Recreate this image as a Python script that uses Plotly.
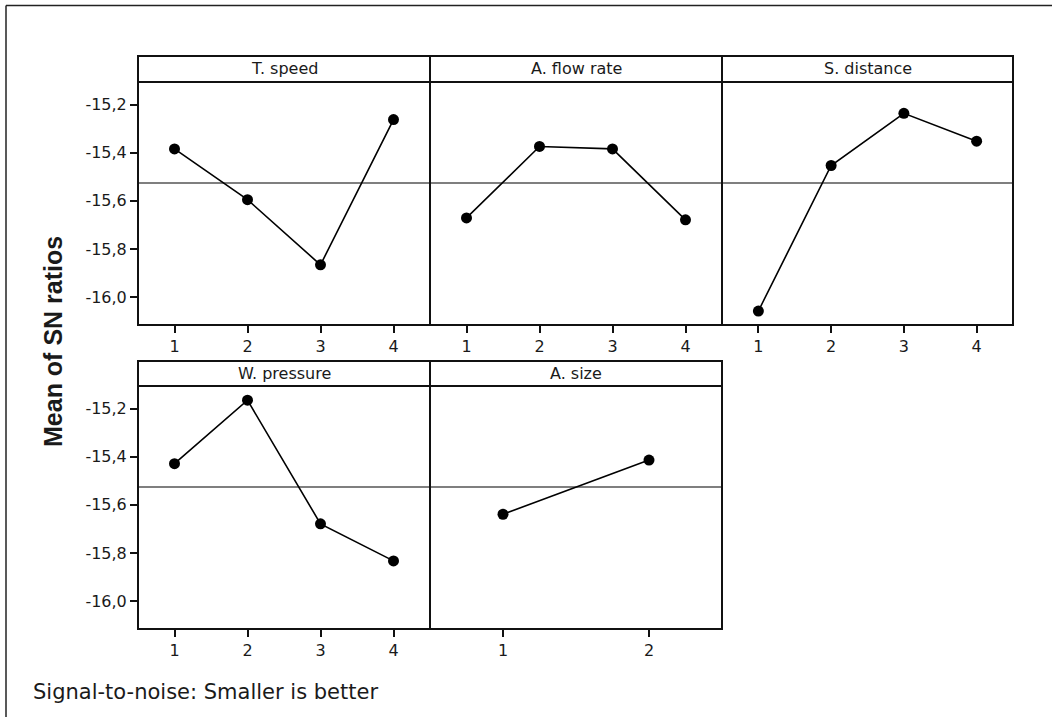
import numpy as np
import plotly.graph_objects as go

# ---- data ----
levels4 = [1, 2, 3, 4]
levels2 = [1, 2]
factor_names = ["T. speed", "A. flow rate", "S. distance", "W. pressure", "A. size"]
t_speed = [-15.384, -15.595, -15.866, -15.262]
flow_rate = [-15.671, -15.374, -15.384, -15.679]
s_distance = [-16.058, -15.453, -15.236, -15.352]
w_pressure = [-15.429, -15.165, -15.679, -15.833]
a_size = [-15.639, -15.414]
y_tickvals = [-16.0, -15.8, -15.6, -15.4, -15.2]
y_ticktext = ["-16,0", "-15,8", "-15,6", "-15,4", "-15,2"]
y_title = "Mean of SN ratios"
footer = "Signal-to-noise: Smaller is better"

series = [
    (levels4, t_speed),
    (levels4, flow_rate),
    (levels4, s_distance),
    (levels4, w_pressure),
    (levels2, a_size),
]
grand_mean = float(np.mean([np.mean(v) for _, v in series]))

W, H = 1052, 717
# panel geometry (pixels)
col_x = [(138, 430), (430, 722), (722, 1013)]
rows = [  # (strip top, plot top, plot bottom)
    (56, 82, 325),
    (361, 386, 629),
]
panel_pos = [(0, 0), (0, 1), (0, 2), (1, 0), (1, 1)]
y_range = [-16.116, -15.106]

def px(x):
    return x / W

def py(y):
    return 1 - y / H

fig = go.Figure()
tick_font = dict(family="DejaVu Sans", size=16, color="#1a1a1a")
shapes = []
annotations = []

for i, ((lv, vals), name, (r, c)) in enumerate(zip(series, factor_names, panel_pos)):
    idx = "" if i == 0 else str(i + 1)
    xa, ya = "x" + idx, "y" + idx
    x0, x1 = col_x[c]
    st, pt, pb = rows[r]
    fig.add_trace(go.Scatter(
        x=lv, y=vals, mode="lines+markers", xaxis=xa, yaxis=ya,
        line=dict(color="black", width=1.6),
        marker=dict(color="black", size=11),
        showlegend=False, hoverinfo="skip", cliponaxis=False,
    ))
    nlev = len(lv)
    fig.update_layout(**{
        "xaxis" + idx: dict(
            domain=[px(x0), px(x1)], anchor=ya, range=[0.5, nlev + 0.5],
            tickvals=lv, ticktext=[str(v) for v in lv],
            showline=False, showgrid=False, zeroline=False,
            ticks="outside", ticklen=7,
            tickwidth=1.5, tickcolor="#111", tickfont=tick_font, fixedrange=True,
        ),
        "yaxis" + idx: dict(
            domain=[py(pb), py(pt)], anchor=xa, range=y_range,
            tickvals=y_tickvals, ticktext=y_ticktext,
            showticklabels=(c == 0), ticks="outside" if c == 0 else "",
            ticklen=7, tickwidth=1.5, tickcolor="#111", tickfont=tick_font,
            showline=False, showgrid=False, zeroline=False, fixedrange=True,
        ),
    })
    # mean reference line
    shapes.append(dict(type="line", xref=xa + " domain", yref=ya,
                       x0=0, x1=1, y0=grand_mean, y1=grand_mean,
                       line=dict(color="#555", width=1.5), layer="below"))
    # panel border
    shapes.append(dict(type="rect", xref="paper", yref="paper",
                       x0=px(x0), x1=px(x1), y0=py(pb), y1=py(pt),
                       line=dict(color="#111", width=2), layer="above"))
    # strip
    shapes.append(dict(type="rect", xref="paper", yref="paper",
                       x0=px(x0), x1=px(x1), y0=py(pt), y1=py(st),
                       line=dict(color="#111", width=2), fillcolor="white"))
    annotations.append(dict(text=name, xref="paper", yref="paper",
                            x=(px(x0) + px(x1)) / 2, y=(py(pt) + py(st)) / 2,
                            xanchor="center", yanchor="middle", showarrow=False,
                            font=dict(family="DejaVu Sans", size=16, color="#1a1a1a")))

# outer frame (left and top edges visible)
shapes.append(dict(type="line", xref="paper", yref="paper",
                   x0=px(6), x1=px(6), y0=py(5.5), y1=0,
                   line=dict(color="#222", width=1.5)))
shapes.append(dict(type="line", xref="paper", yref="paper",
                   x0=px(6), x1=1, y0=py(5.5), y1=py(5.5),
                   line=dict(color="#222", width=1.5)))

annotations.append(dict(text="<b>" + y_title + "</b>", xref="paper", yref="paper",
                        x=px(53), y=py(342), textangle=-90, showarrow=False,
                        xanchor="center", yanchor="middle",
                        font=dict(family="Liberation Sans", size=25, color="#1a1a1a")))
annotations.append(dict(text=footer, xref="paper", yref="paper",
                        x=px(31), y=py(692), xanchor="left", yanchor="middle",
                        showarrow=False,
                        font=dict(family="DejaVu Sans", size=21, color="#1a1a1a")))

fig.update_layout(
    width=W, height=H, margin=dict(l=0, r=0, t=0, b=0),
    paper_bgcolor="white", plot_bgcolor="white",
    shapes=shapes, annotations=annotations, showlegend=False,
)
fig.write_html("out.html",
               config={"displayModeBar": False},
               post_script="document.body.style.margin='0';document.body.style.overflow='hidden';")
